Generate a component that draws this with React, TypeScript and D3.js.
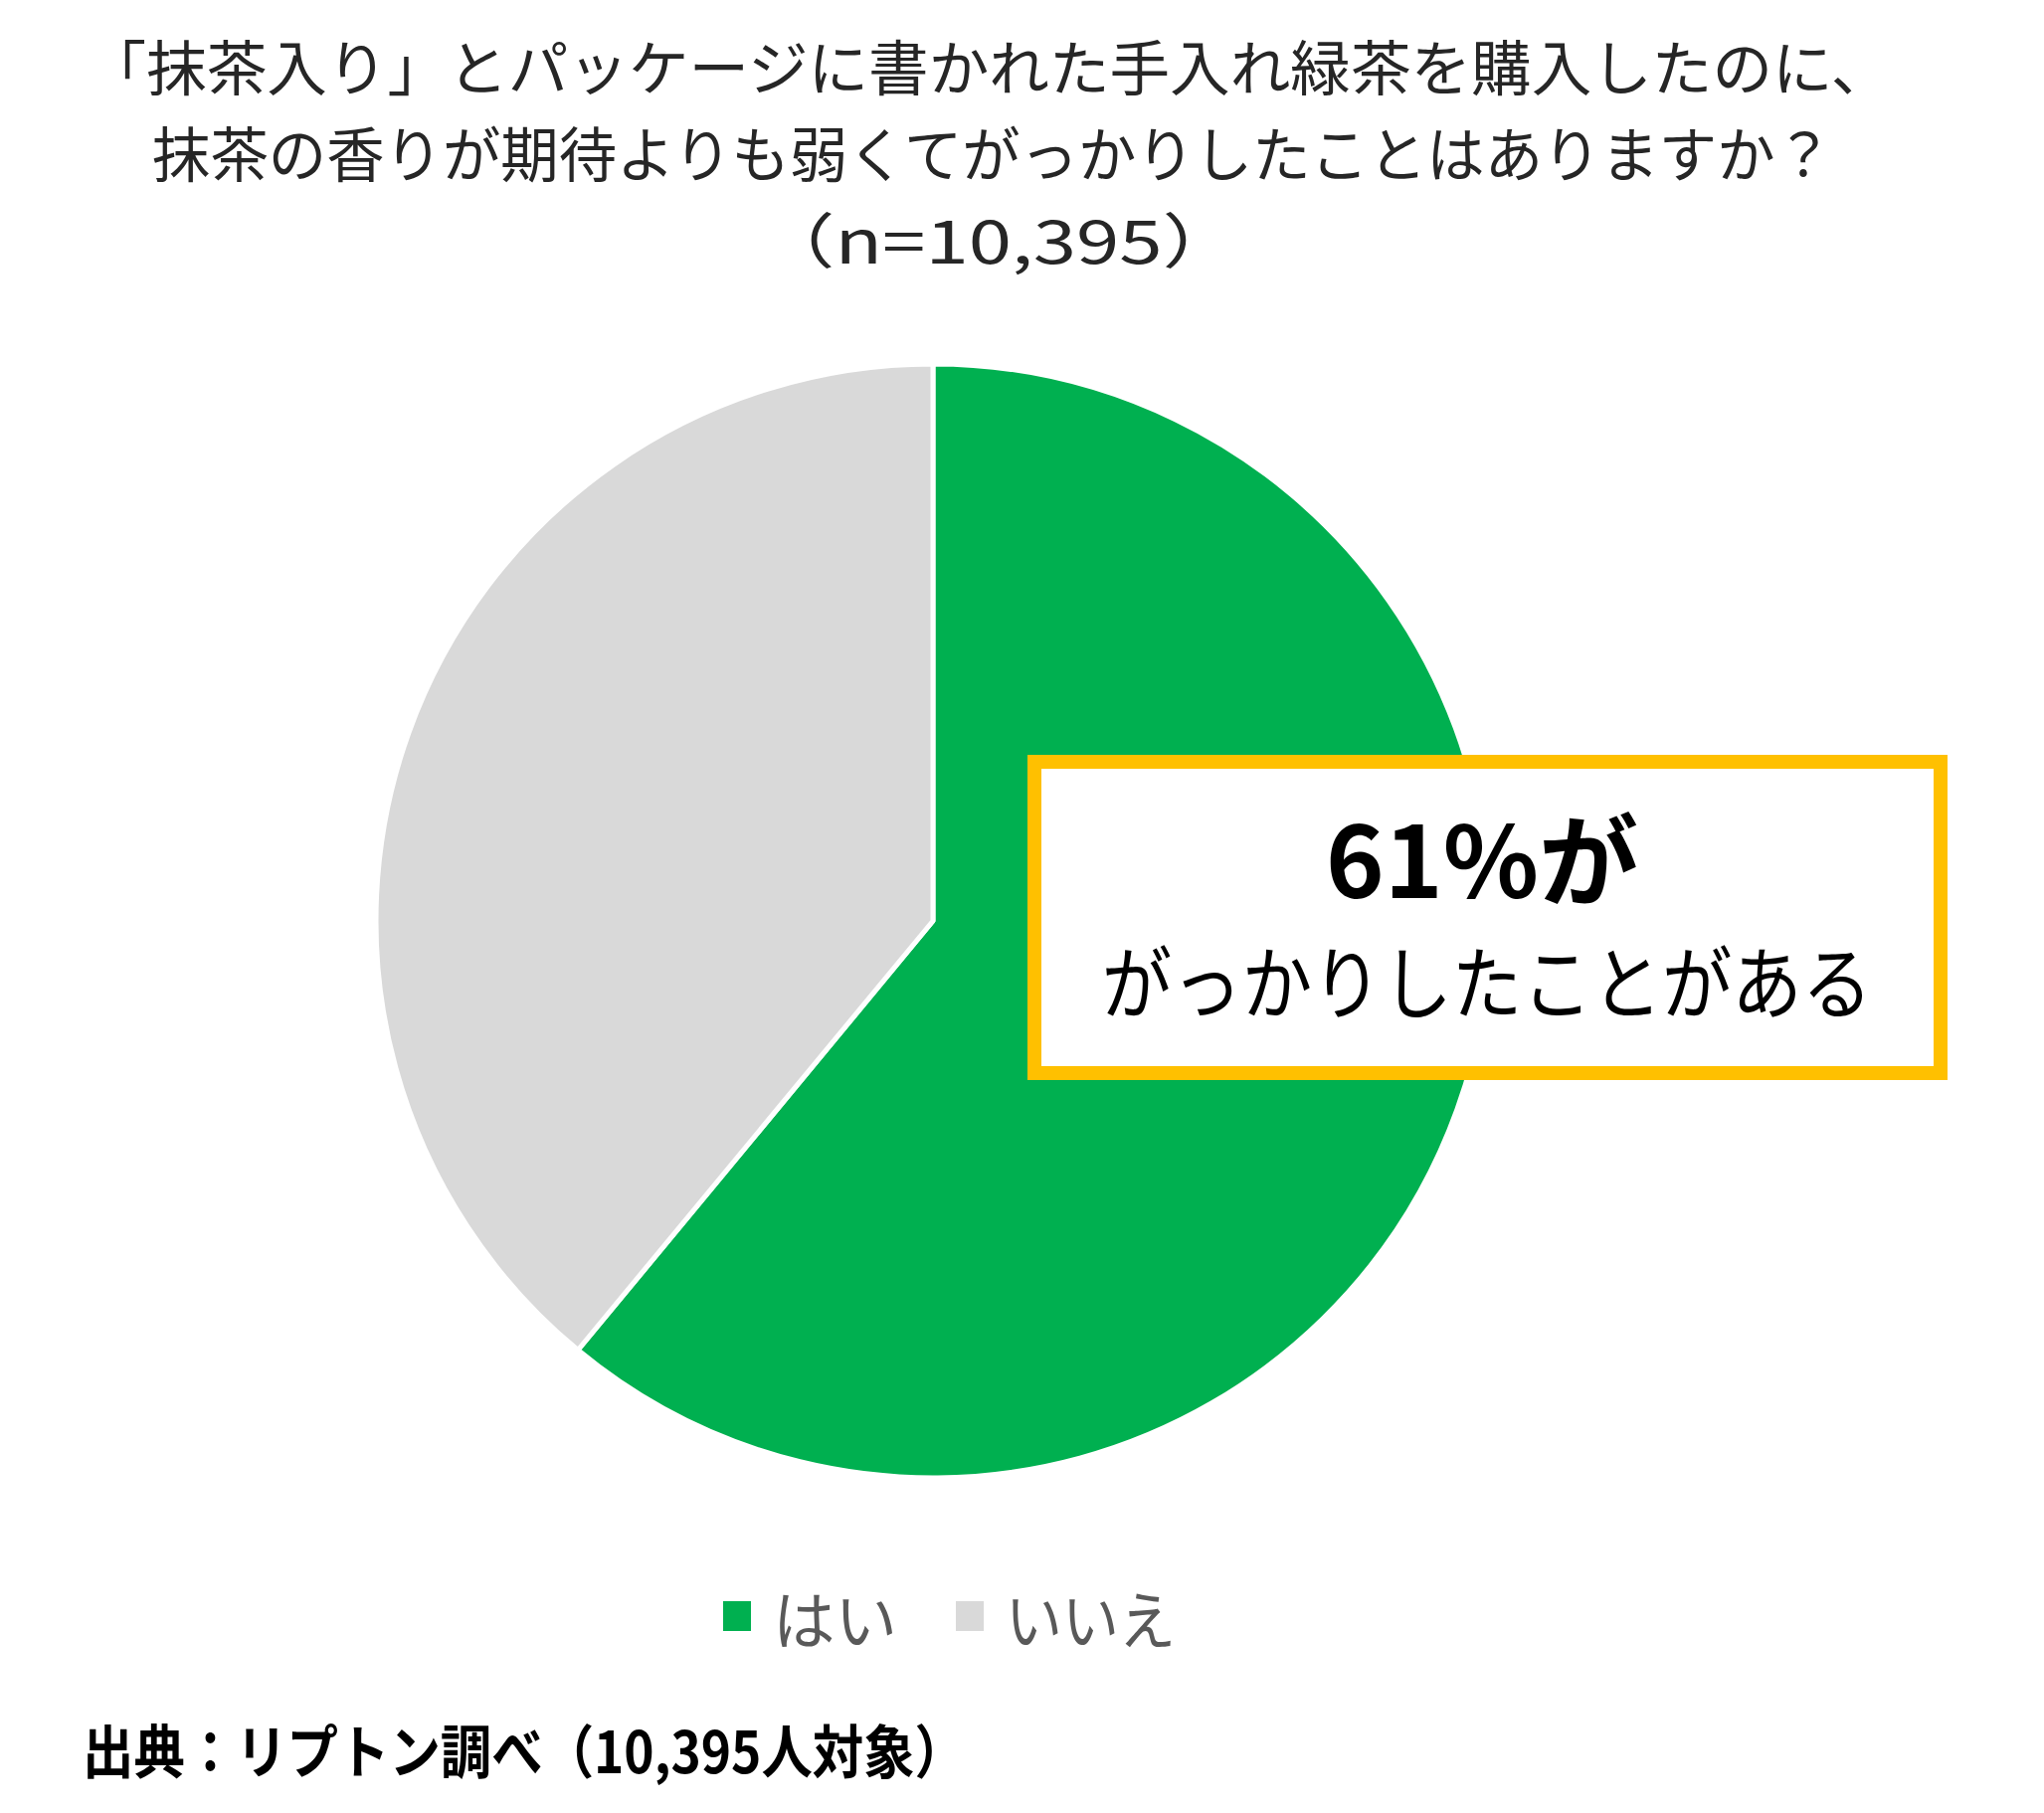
import React from "react"
import * as d3 from "d3"

const categories = ["はい", "いいえ"]
const values = [61, 39]
const colors = ["#00B050", "#D9D9D9"]

const titleLines = [
  "「抹茶入り」とパッケージに書かれた手入れ緑茶を購入したのに、",
  "抹茶の香りが期待よりも弱くてがっかりしたことはありますか？",
  "（n=10,395）",
]
const calloutMain = "61%が"
const calloutSub = "がっかりしたことがある"
const sourceText = "出典：リプトン調べ（10,395人対象）"

const W = 2055
const H = 1823
const FONT = "'Noto Sans CJK JP', 'Noto Sans', sans-serif"

export default function App() {
  const cx = 938
  const cy = 926
  const radius = 560

  const slices = categories.map((name, i) => ({ name, value: values[i], color: colors[i] }))

  // pie starts at 12 o'clock, clockwise, in data order
  const pie = d3
    .pie<(typeof slices)[number]>()
    .value((d) => d.value)
    .sort(null)
  const arc = d3.arc<d3.PieArcDatum<(typeof slices)[number]>>().innerRadius(0).outerRadius(radius)

  const arcs = pie(slices)

  // legend layout
  const legendX = d3.scaleOrdinal<string, number>().domain(categories).range([727, 961])
  const legendTextW = [125, 171]

  // title lines, stretched a bit to the widths of the original
  const titleSize = 60
  const titleRows = [
    { x: 994, y: 91, sx: 1.01 },
    { x: 998, y: 178, sx: 0.973 },
    { x: 1004, y: 265, sx: 1.3 },
  ]

  return (
    <svg
      width={W}
      height={H}
      style={{ position: "absolute", left: 0, top: 0, background: "#fff" }}
      fontFamily={FONT}
    >
      <rect width={W} height={H} fill="#fff" />

      {/* title */}
      <g fill="#262626" fontSize={titleSize} textAnchor="middle">
        {titleLines.map((line, i) => (
          <text key={i} transform={`translate(${titleRows[i].x},${titleRows[i].y}) scale(${titleRows[i].sx},1)`}>
            {line}
          </text>
        ))}
      </g>

      {/* pie */}
      <g transform={`translate(${cx},${cy})`}>
        {arcs.map((d) => (
          <path key={d.data.name} d={arc(d) ?? ""} fill={d.data.color} stroke="#fff" strokeWidth={5} strokeLinejoin="round" />
        ))}
      </g>

      {/* callout box */}
      <rect x={1040} y={766} width={911} height={313} fill="#fff" stroke="#FFC000" strokeWidth={14} />
      <text x={1490} y={903} textAnchor="middle" fontSize={100} fontWeight="bold" fill="#000">
        {calloutMain}
      </text>
      <text transform="translate(1495,1018) scale(0.88,1)" textAnchor="middle" fontSize={80} fill="#000">
        {calloutSub}
      </text>

      {/* legend */}
      {categories.map((name, i) => (
        <g key={name}>
          <rect x={legendX(name)} y={1610} width={28} height={30} fill={colors[i]} />
          <text
            x={legendX(name) + 50}
            y={1653}
            fontSize={64}
            fill="#595959"
            textLength={legendTextW[i]}
            lengthAdjust="spacingAndGlyphs"
          >
            {name}
          </text>
        </g>
      ))}

      {/* source */}
      <text x={83} y={1783} fontSize={58} fontWeight="bold" fill="#000" textLength={888} lengthAdjust="spacingAndGlyphs">
        {sourceText}
      </text>
    </svg>
  )
}
